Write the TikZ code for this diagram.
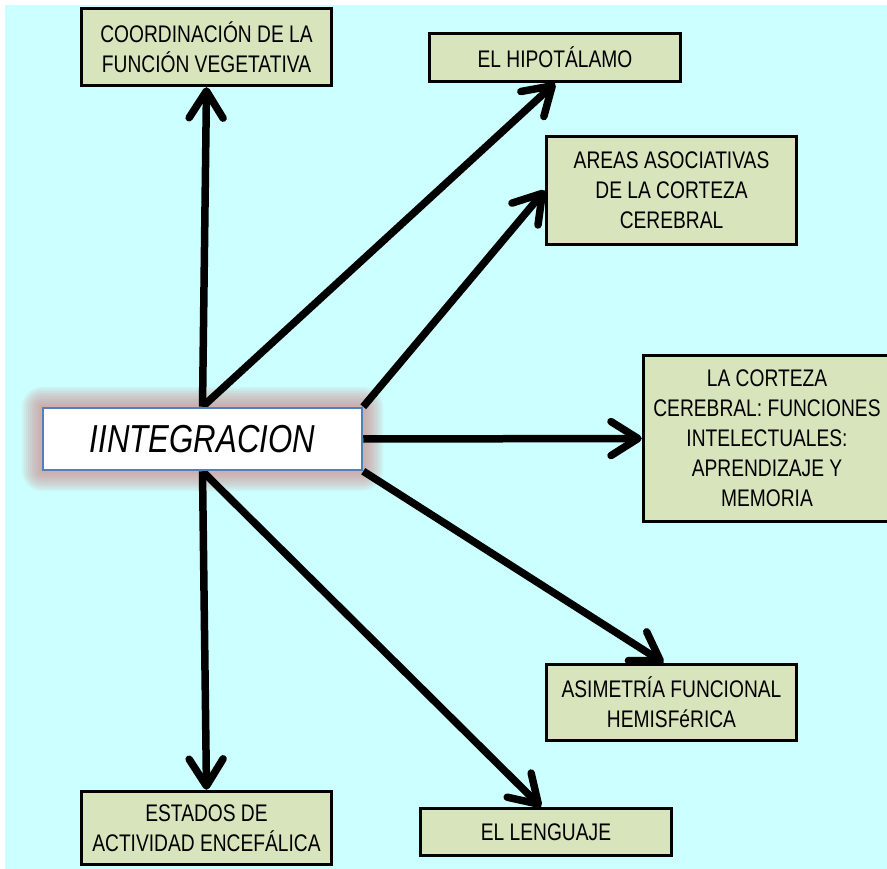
\documentclass[tikz,border=0pt]{standalone}
\usepackage{fontspec}
\setmainfont{Liberation Sans}[FakeStretch=0.8]
\usetikzlibrary{arrows.meta}
\definecolor{bgcyan}{RGB}{204,255,255}
\definecolor{boxfill}{RGB}{216,228,188}
\definecolor{hubblue}{RGB}{79,129,189}
\definecolor{hubglow}{RGB}{210,130,128}
\pgfdeclarelayer{bg}
\pgfdeclarelayer{links}
\pgfsetlayers{bg,links,main}

\begin{document}
\begin{tikzpicture}[x=1pt,y=-1pt,
  topic/.style={draw=black,line width=3.5pt,fill=boxfill,align=center,inner sep=0pt,
    font=\fontsize{24}{30}\selectfont},
  hub/.style={draw=hubblue,line width=2.5pt,fill=white,inner sep=0pt,
    font=\fontsize{39}{40}\selectfont\itshape},
  link/.style={line width=7.5pt,-{Straight Barb[length=27pt,width=34pt,round]}}]
\useasboundingbox (0,0) rectangle (887,869);

% page background
\begin{pgfonlayer}{bg}
  \fill[white] (0,0) rectangle (887,869);
  \fill[bgcyan] (5,5) rectangle (887,869);
  % soft halo around the central box
  \foreach \d in {20,18,...,2}
    \fill[hubglow,opacity=0.09,rounded corners=\d pt]
      ({42-\d},{407-\d}) rectangle ({363+\d},{471+\d});
\end{pgfonlayer}

% central concept
\node[hub,minimum width=319pt,minimum height=62pt] (c) at (202.5,439) {IINTEGRACION};

% surrounding topics
\node[topic,minimum width=250pt,minimum height=77pt] (b1) at (206.5,47)
  {COORDINACIÓN DE LA\\FUNCIÓN VEGETATIVA};
\node[topic,minimum width=251pt,minimum height=48pt] (b2) at (555,57.5)
  {EL HIPOTÁLAMO};
\node[topic,minimum width=250pt,minimum height=108pt] (b3) at (671.5,190.5)
  {AREAS ASOCIATIVAS\\DE LA CORTEZA\\CEREBRAL};
\node[topic,minimum width=247pt,minimum height=166pt] (b4) at (767,438.5)
  {LA CORTEZA\\CEREBRAL: FUNCIONES\\INTELECTUALES:\\APRENDIZAJE Y\\MEMORIA};
\node[topic,minimum width=250pt,minimum height=76pt] (b5) at (671.5,702.5)
  {ASIMETRÍA FUNCIONAL\\HEMISFéRICA};
\node[topic,minimum width=251pt,minimum height=47pt] (b6) at (546,832)
  {EL LENGUAJE};
\node[topic,minimum width=250pt,minimum height=73pt] (b7) at (206.5,828)
  {ESTADOS DE\\ACTIVIDAD ENCEFÁLICA};

% connectors
\begin{pgfonlayer}{links}
  \draw[link] (c.north) -- (b1.south);
  \draw[link] (c.north) -- (b2.south);
  \draw[link] (c.north east) -- (b3.west);
  \draw[link] (c.east) -- (b4.west);
  \draw[link] (c.south east) -- ([xshift=-8pt]b5.north);
  \draw[link] (c.south) -- ([xshift=-5pt]b6.north);
  \draw[link] (c.south) -- (b7.north);
\end{pgfonlayer}
\end{tikzpicture}
\end{document}
